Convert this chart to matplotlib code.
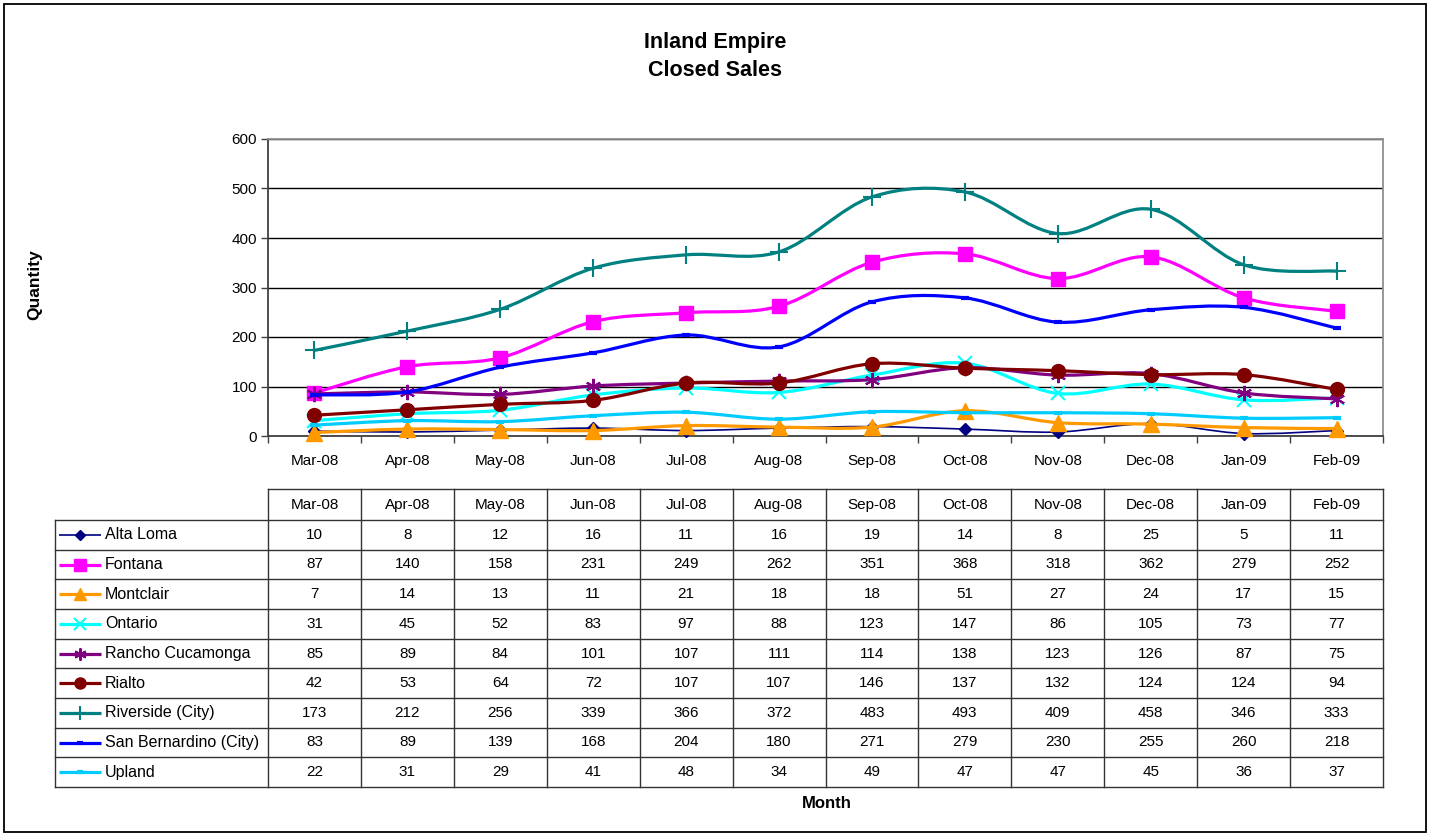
import numpy as np
import matplotlib
matplotlib.use('Agg')
import matplotlib.pyplot as plt
from matplotlib.path import Path
from matplotlib.patches import PathPatch, Rectangle

plt.rcParams['font.family'] = ['Liberation Sans', 'DejaVu Sans']

# Data
months = ['Mar-08', 'Apr-08', 'May-08', 'Jun-08', 'Jul-08', 'Aug-08',
          'Sep-08', 'Oct-08', 'Nov-08', 'Dec-08', 'Jan-09', 'Feb-09']
alta_loma = [10, 8, 12, 16, 11, 16, 19, 14, 8, 25, 5, 11]
fontana = [87, 140, 158, 231, 249, 262, 351, 368, 318, 362, 279, 252]
montclair = [7, 14, 13, 11, 21, 18, 18, 51, 27, 24, 17, 15]
ontario = [31, 45, 52, 83, 97, 88, 123, 147, 86, 105, 73, 77]
rancho = [85, 89, 84, 101, 107, 111, 114, 138, 123, 126, 87, 75]
rialto = [42, 53, 64, 72, 107, 107, 146, 137, 132, 124, 124, 94]
riverside = [173, 212, 256, 339, 366, 372, 483, 493, 409, 458, 346, 333]
san_bern = [83, 89, 139, 168, 204, 180, 271, 279, 230, 255, 260, 218]
upland = [22, 31, 29, 41, 48, 34, 49, 47, 47, 45, 36, 37]

series = [
    ('Alta Loma', alta_loma, '#000080', 'D', 6, 1.2, 1.0),
    ('Fontana', fontana, '#FF00FF', 's', 10, 2.3, 1.0),
    ('Montclair', montclair, '#FF9900', '^', 11, 2.3, 1.0),
    ('Ontario', ontario, '#00FFFF', 'x', 10, 2.3, 1.5),
    ('Rancho Cucamonga', rancho, '#800080', (6, 2, 0), 11, 2.3, 1.5),
    ('Rialto', rialto, '#800000', 'o', 10, 2.3, 1.0),
    ('Riverside (City)', riverside, '#008080', '+', 13, 2.3, 1.5),
    ('San Bernardino (City)', san_bern, '#0000FF', '_', 6, 2.3, 3.0),
    ('Upland', upland, '#00CCFF', '_', 6, 2.3, 3.0),
]


def smooth_path(x, y):
    pts = np.column_stack([x, y]).astype(float)
    n = len(pts)
    verts = [pts[0]]
    codes = [Path.MOVETO]
    for i in range(n - 1):
        p0 = pts[i - 1] if i > 0 else pts[i]
        p1 = pts[i]
        p2 = pts[i + 1]
        p3 = pts[i + 2] if i + 2 < n else pts[i + 1]
        verts += [p1 + (p2 - p0) / 6, p2 - (p3 - p1) / 6, p2]
        codes += [Path.CURVE4] * 3
    return Path(verts, codes)


W, H = 1432, 833
fig = plt.figure(figsize=(W / 100, H / 100), dpi=100)

# chart axes
ax_l, ax_r, ax_t, ax_b = 268, 1383, 139, 436
ax = fig.add_axes([ax_l / W, (H - ax_b) / H, (ax_r - ax_l) / W, (ax_b - ax_t) / H])
x = np.arange(len(months))
for k, (name, vals, col, mk, ms, lw, mew) in enumerate(series):
    ax.add_patch(PathPatch(smooth_path(x, vals), facecolor='none', edgecolor=col,
                           lw=lw, zorder=3 + k, capstyle='round', joinstyle='round'))
    ax.plot(x, vals, linestyle='none', marker=mk, ms=ms, color=col, mec=col,
            mew=mew, zorder=3 + k, clip_on=False)

ax.set_xlim(-0.5, len(months) - 0.5)
ax.set_ylim(0, 600)
ax.set_yticks(range(0, 601, 100))
ax.set_xticks(x)
ax.set_xticklabels(months, fontsize=11)
ax.set_xticks(np.arange(-0.5, len(months), 1), minor=True)
ax.tick_params(axis='x', which='major', length=0, pad=13)
ax.tick_params(axis='x', which='minor', length=5, direction='out', width=1, color='#404040')
ax.tick_params(axis='y', length=5, direction='out', width=1, color='#404040',
               labelsize=11, pad=3)
ax.grid(axis='y', color='black', lw=1)
ax.set_axisbelow(True)
for s in ['left', 'bottom']:
    ax.spines[s].set_color('#404040')
    ax.spines[s].set_linewidth(1.3)
for s in ['top', 'right']:
    ax.spines[s].set_color('#909090')
    ax.spines[s].set_linewidth(1.3)

# overlay in pixel coordinates for table, titles, border
ov = fig.add_axes([0, 0, 1, 1])
ov.set_xlim(0, W)
ov.set_ylim(H, 0)
ov.axis('off')
ov.patch.set_alpha(0)

ov.add_patch(Rectangle((4, 4), 1422, 828, fill=False, ec='black', lw=1.3))
ov.text(715, 42, 'Inland Empire', ha='center', va='center', fontsize=15.5, fontweight='bold')
ov.text(715, 70, 'Closed Sales', ha='center', va='center', fontsize=15.5, fontweight='bold')
ov.text(35, 285, 'Quantity', ha='center', va='center', rotation=90, fontsize=12.5,
        fontweight='bold')
ov.text(827, 803, 'Month', ha='center', va='center', fontsize=12, fontweight='bold')

# data table
t_left, t_top, h_bot, t_bot = 55, 489, 520, 787
col_w = (ax_r - ax_l) / len(months)
row_h = (t_bot - h_bot) / len(series)
lc = '#333333'
ov.plot([ax_l, ax_r], [t_top, t_top], color=lc, lw=1)
for i in range(len(months) + 1):
    ov.plot([ax_l + i * col_w] * 2, [t_top, t_bot], color=lc, lw=1)
for j in range(len(series) + 1):
    ov.plot([t_left, ax_r], [h_bot + j * row_h] * 2, color=lc, lw=1)
ov.plot([t_left, t_left], [h_bot, t_bot], color=lc, lw=1)

for i, m in enumerate(months):
    ov.text(ax_l + (i + 0.5) * col_w, (t_top + h_bot) / 2, m, ha='center', va='center',
            fontsize=11)

for j, (name, vals, col, mk, ms, lw, mew) in enumerate(series):
    yc = h_bot + (j + 0.5) * row_h
    ov.plot([59, 101], [yc, yc], color=col, lw=lw, solid_capstyle='butt')
    ov.plot([80], [yc], marker=mk, ms=ms * 0.8, color=col, mec=col, mew=mew,
            linestyle='none')
    ov.text(105, yc, name, ha='left', va='center', fontsize=11.5)
    for i, v in enumerate(vals):
        ov.text(ax_l + (i + 0.5) * col_w, yc, str(v), ha='center', va='center', fontsize=11)

fig.savefig('out.png', dpi=100)
